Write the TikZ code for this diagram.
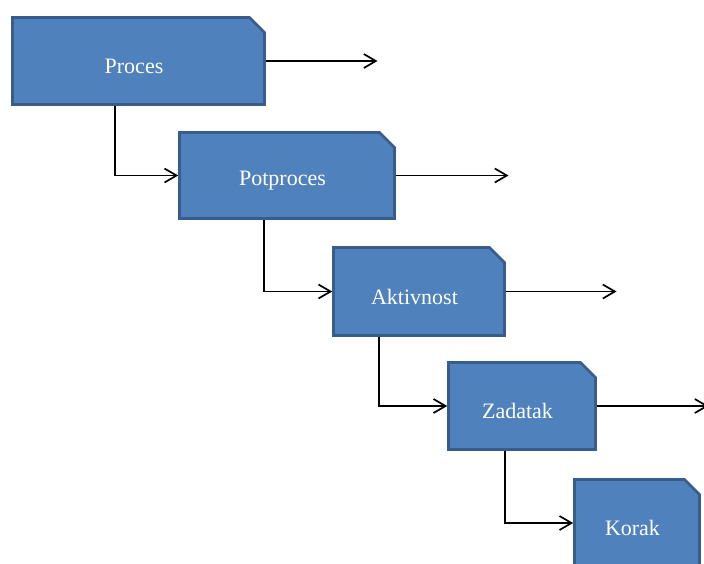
\documentclass[tikz,border=0pt]{standalone}
\usepackage{fontspec}
\setmainfont{Liberation Serif}
\usetikzlibrary{arrows.meta}
\definecolor{boxfill}{HTML}{4F81BD}
\definecolor{boxline}{HTML}{385D8A}
\tikzset{
  stepbox/.style={rectangle, inner sep=0pt, outer sep=0pt},
  chamf/.style={fill=boxfill, draw=boxline, line width=2.6pt, line join=miter},
  lbl/.style={text=white, font=\fontsize{22}{26}\selectfont, inner sep=0pt},
  arr/.style={line width=1.7pt, -{Straight Barb[length=12pt,width=14pt,line width=1.7pt]}},
}
\begin{document}
\begin{tikzpicture}[x=1pt,y=-1pt]
\useasboundingbox (0,0) rectangle (704,563);
\clip (0,0) rectangle (704,563);
\node[stepbox, minimum width=252pt, minimum height=87pt] (p1) at (138.5,61) {};
\node[stepbox, minimum width=215pt, minimum height=86pt] (p2) at (287,175.5) {};
\node[stepbox, minimum width=171pt, minimum height=88pt] (p3) at (419,291.5) {};
\node[stepbox, minimum width=147pt, minimum height=87pt] (p4) at (522,406) {};
\node[stepbox, minimum width=125pt, minimum height=87pt] (p5) at (637,523) {};
\foreach \n in {p1,p2,p3,p4,p5}{
  \draw[chamf] (\n.south west) -- (\n.north west) -- ([xshift=-15pt]\n.north east)
    -- ([yshift=-15pt]\n.north east) -- (\n.south east) -- cycle;
}
\node[lbl] (t1) at ([shift={(-4.5,5)}]p1.center) {Proces};
\node[lbl] (t2) at ([shift={(-4.5,5)}]p2.center) {Potproces};
\node[lbl] (t3) at ([shift={(-4.5,5)}]p3.center) {Aktivnost};
\node[lbl] (t4) at ([shift={(-4.5,5)}]p4.center) {Zadatak};
\node[lbl] (t5) at ([shift={(-4.5,5)}]p5.center) {Korak};
\coordinate (o1) at ([xshift=113]p1.east);
\coordinate (o2) at ([xshift=114]p2.east);
\coordinate (o3) at ([xshift=112]p3.east);
\coordinate (o4) at ([xshift=113]p4.east);
\draw[arr] ([xshift=1.3]p1.east) -- (o1);
\draw[arr] ([xshift=1.3]p2.east) -- (o2);
\draw[arr] ([xshift=1.3]p3.east) -- (o3);
\draw[arr] ([xshift=1.3]p4.east) -- (o4);
\draw[arr] ([shift={(-23.5,1.3)}]p1.south) |- ([xshift=-1.3]p2.west);
\draw[arr] ([shift={(-23,1.3)}]p2.south) |- ([xshift=-1.3]p3.west);
\draw[arr] ([shift={(-40,1.3)}]p3.south) |- ([xshift=-1.3]p4.west);
\draw[arr] ([shift={(-17,1.3)}]p4.south) |- ([xshift=-1.3]p5.west);
\end{tikzpicture}
\end{document}
